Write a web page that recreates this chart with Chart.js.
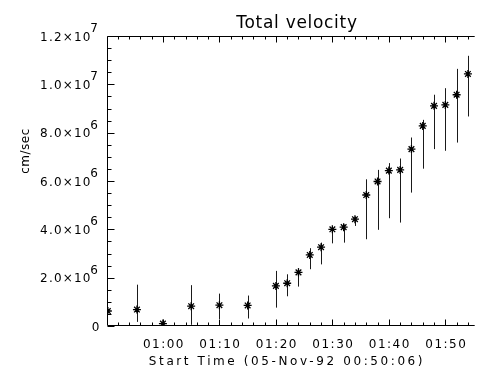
<!DOCTYPE html>
<html>
<head>
<meta charset="utf-8">
<title>Total velocity</title>
<script src="https://cdn.jsdelivr.net/npm/chart.js@4.4.1/dist/chart.umd.min.js"></script>
<style>
  html, body { margin: 0; padding: 0; background: #ffffff; }
  #wrap { width: 480px; height: 370px; position: relative; }
</style>
</head>
<body>
<div id="wrap"><canvas id="mainChart"></canvas></div>
<script>
    // Start time of the plot: 05-Nov-92 00:50:06 -> x values are clock minutes after 00:00
    const startMinutes = 50.1;
    const endMinutes = 115.2;

    // observation times (minutes after 00:00)
    const times = [50.25, 55.4, 60, 65, 70, 75, 80, 82, 84, 86, 88, 90,
                   92, 94, 96, 98, 100, 102, 104, 106, 108, 110, 112, 114];

    // total velocity (cm/sec)
    const velocity = [0.62e6, 0.68e6, 0.10e6, 0.82e6, 0.86e6, 0.85e6, 1.66e6, 1.77e6,
                      2.22e6, 2.94e6, 3.26e6, 4.00e6, 4.09e6, 4.42e6, 5.42e6, 5.98e6,
                      6.43e6, 6.46e6, 7.32e6, 8.28e6, 9.11e6, 9.15e6, 9.57e6, 10.43e6];

    // error bar ends
    const errLow  = [0.55e6, 0.17e6, 0.05e6, 0.05e6, 0.29e6, 0.31e6, 0.76e6, 1.23e6,
                     1.63e6, 2.35e6, 2.55e6, 3.42e6, 3.45e6, 4.14e6, 3.59e6, 3.98e6,
                     4.46e6, 4.28e6, 5.52e6, 6.51e6, 7.32e6, 7.25e6, 7.59e6, 8.67e6];
    const errHigh = [0.70e6, 1.71e6, 0.15e6, 1.69e6, 1.34e6, 1.26e6, 2.28e6, 2.14e6,
                     2.39e6, 3.22e6, 3.45e6, 4.10e6, 4.20e6, 4.53e6, 6.07e6, 6.46e6,
                     6.74e6, 6.93e6, 7.80e6, 8.53e6, 9.57e6, 9.84e6, 10.64e6, 11.18e6];

    // axis labels
    const xTickValues = [60, 70, 80, 90, 100, 110];
    const xTickLabels = ['01:00', '01:10', '01:20', '01:30', '01:40', '01:50'];
    const yTickValues = [0, 2e6, 4e6, 6e6, 8e6, 1.0e7, 1.2e7];
    const yTickMantissa = ['0', '2.0', '4.0', '6.0', '8.0', '1.0', '1.2'];
    const yTickExponent = ['', '6', '6', '6', '6', '7', '7'];

    const titleText = 'Total velocity';
    const xTitleText = 'Start Time (05-Nov-92 00:50:06)';
    const yTitleText = 'cm/sec';

    const FONT = '"DejaVu Sans", sans-serif';

    // vertical error bars, 1px, drawn under the asterisks
    const errorBarPlugin = {
      id: 'errorBars',
      beforeDatasetsDraw(chart) {
        const ctx = chart.ctx;
        const xs = chart.scales.x;
        const ys = chart.scales.y;
        const area = chart.chartArea;
        ctx.save();
        ctx.beginPath();
        ctx.rect(area.left, area.top, area.right - area.left, area.bottom - area.top);
        ctx.clip();
        ctx.strokeStyle = '#1a1a1a';
        ctx.lineWidth = 1;
        ctx.beginPath();
        times.forEach((t, i) => {
          const px = Math.round(xs.getPixelForValue(t)) + 0.5;
          ctx.moveTo(px, ys.getPixelForValue(errLow[i]));
          ctx.lineTo(px, ys.getPixelForValue(errHigh[i]));
        });
        ctx.stroke();
        ctx.restore();
      }
    };

    // IDL-ish frame: left / top / bottom lines, ticks pointing inward, labels with real superscripts
    const idlAxesPlugin = {
      id: 'idlAxes',
      afterDraw(chart) {
        const ctx = chart.ctx;
        const area = chart.chartArea;
        const xs = chart.scales.x;
        const ys = chart.scales.y;
        const L = Math.round(area.left) + 0.5;
        const T = Math.round(area.top) + 0.5;
        const B = Math.round(area.bottom) - 0.5;
        const R = area.right;

        ctx.save();
        ctx.strokeStyle = '#000000';
        ctx.lineWidth = 1;

        // frame
        ctx.beginPath();
        ctx.moveTo(R, T); ctx.lineTo(L, T); ctx.lineTo(L, B); ctx.lineTo(R, B);
        ctx.stroke();

        // x ticks (bottom and top)
        ctx.beginPath();
        for (const t of xs.ticks) {
          const px = Math.round(xs.getPixelForValue(t.value)) + 0.5;
          const len = xTickValues.includes(t.value) ? 6 : 3;
          ctx.moveTo(px, B); ctx.lineTo(px, B - len);
          ctx.moveTo(px, T); ctx.lineTo(px, T + len);
        }
        // y ticks (left)
        for (const t of ys.ticks) {
          const py = Math.round(ys.getPixelForValue(t.value)) + 0.5;
          const len = yTickValues.includes(t.value) ? 7 : 4;
          ctx.moveTo(L, py); ctx.lineTo(L + len, py);
        }
        ctx.stroke();

        ctx.fillStyle = '#000000';

        // title
        ctx.font = '17px ' + FONT;
        ctx.letterSpacing = '0.7px';
        ctx.textAlign = 'center';
        ctx.textBaseline = 'alphabetic';
        ctx.fillText(titleText, 297, 28);

        // x tick labels
        ctx.font = '12px ' + FONT;
        ctx.letterSpacing = '1.5px';
        xTickValues.forEach((v, i) => {
          const px = xs.getPixelForValue(v);
          ctx.fillText(xTickLabels[i], px + 1, 348);
        });

        // x title
        ctx.letterSpacing = '2.6px';
        ctx.fillText(xTitleText, 287, 365);

        // y tick labels: mantissa x 10^exp
        ctx.letterSpacing = '1.2px';
        const xr = 99;
        yTickValues.forEach((v, i) => {
          const py = ys.getPixelForValue(v);
          const exp = yTickExponent[i];
          const base = exp ? yTickMantissa[i] + '×10' : yTickMantissa[i];
          ctx.font = '12px ' + FONT;
          let ew = 0;
          if (exp) {
            ctx.font = '12px ' + FONT;
            ew = ctx.measureText(exp).width;
            ctx.textAlign = 'left';
            ctx.fillText(exp, xr - ew, py - 4);
          }
          ctx.textAlign = 'right';
          ctx.fillText(base, xr - ew + 1.5, py + 4.5);
        });

        // y title
        ctx.letterSpacing = '0.5px';
        ctx.translate(26, 151);
        ctx.rotate(-Math.PI / 2);
        ctx.textAlign = 'center';
        ctx.textBaseline = 'middle';
        ctx.font = '12px ' + FONT;
        ctx.fillText(yTitleText, 0, 0);

        ctx.restore();
        ctx.letterSpacing = '0px';
      }
    };

    const pointData = times.map((t, i) => ({ x: t, y: velocity[i] }));

    const ctx = document.getElementById('mainChart').getContext('2d');
    const mainChart = new Chart(ctx, {
      type: 'scatter',
      data: {
        datasets: [{
          label: 'velocity',
          data: pointData,
          pointStyle: 'star',
          pointRadius: 4,
          borderColor: '#000000',
          backgroundColor: '#000000',
          borderWidth: 1.3,
          clip: 0
        }]
      },
      options: {
        responsive: true,
        maintainAspectRatio: false,
        animation: false,
        layout: { padding: { top: 36, right: 0, bottom: 0, left: 0 } },
        plugins: {
          legend: { display: false },
          tooltip: { enabled: false },
          title: { display: false }
        },
        scales: {
          x: {
            type: 'linear',
            min: startMinutes,
            max: endMinutes,
            grid: { display: false },
            border: { display: false },
            ticks: { display: false },
            afterBuildTicks: (scale) => {
              // minor ticks every 2 minutes, majors every 10
              const ticks = [];
              for (let m = Math.ceil(startMinutes / 2) * 2; m <= endMinutes; m += 2) {
                ticks.push({ value: m });
              }
              scale.ticks = ticks;
            },
            afterFit: (scale) => { scale.height = 44; }
          },
          y: {
            type: 'linear',
            min: 0,
            max: 1.2e7,
            grid: { display: false },
            border: { display: false },
            ticks: { display: false, stepSize: 5e5 },
            afterFit: (scale) => { scale.width = 107; }
          }
        }
      },
      plugins: [errorBarPlugin, idlAxesPlugin]
    });
</script>
</body>
</html>
